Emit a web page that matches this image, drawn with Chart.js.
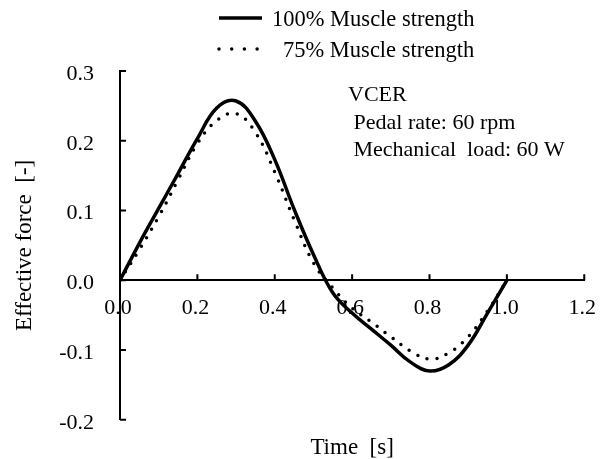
<!DOCTYPE html>
<html>
<head>
<meta charset="utf-8">
<script src="https://cdn.jsdelivr.net/npm/chart.js@4.4.1/dist/chart.umd.min.js"></script>
<style>
  html, body { margin: 0; padding: 0; background: #fff; }
</style>
</head>
<body>
<canvas id="chart" width="613" height="459"></canvas>
<script>
// values
const timeS    = [0, 0.05, 0.1, 0.15, 0.2, 0.25, 0.3, 0.35, 0.4, 0.45, 0.5, 0.55, 0.6, 0.65, 0.7, 0.75, 0.8, 0.85, 0.9, 0.95, 1.0];
const force100 = [0, 0.053, 0.103, 0.153, 0.203, 0.247, 0.257, 0.228, 0.173, 0.102, 0.037, -0.018, -0.047, -0.070, -0.093, -0.117, -0.130, -0.121, -0.093, -0.047, 0];
const force75  = [0, 0.044, 0.091, 0.144, 0.196, 0.229, 0.239, 0.212, 0.155, 0.087, 0.025, -0.011, -0.040, -0.060, -0.081, -0.101, -0.113, -0.104, -0.081, -0.044, 0];

const seriesNames = ['100% Muscle strength', '75% Muscle strength'];
const noteLines = ['VCER', ' Pedal rate: 60 rpm', ' Mechanical  load: 60 W'];
const xTitle = 'Time  [s]';
const yTitle = 'Effective force  [-]';

const FONT = '"Liberation Serif", "Times New Roman", serif';

function points(ys) {
	return timeS.map((t, i) => ({ x: t, y: ys[i] }));
}

// inward tick marks, legend, note and x title
const extras = {
	id: 'extras',
	afterDraw(chart) {
		const ctx = chart.ctx;
		const xs = chart.scales.x, ys = chart.scales.y;
		const y0 = ys.getPixelForValue(0);
		ctx.save();
		ctx.strokeStyle = '#000';
		ctx.lineWidth = 2;
		ctx.beginPath();
		xs.ticks.forEach(t => {
			if (t.value === 0) return;
			const px = xs.getPixelForValue(t.value);
			ctx.moveTo(px, y0); ctx.lineTo(px, y0 - 6);
		});
		ys.ticks.forEach(t => {
			const py = ys.getPixelForValue(t.value);
			ctx.moveTo(xs.left, py); ctx.lineTo(xs.left + 6, py);
		});
		ctx.stroke();

		// legend
		ctx.fillStyle = '#000';
		ctx.font = '22.5px ' + FONT;
		ctx.textBaseline = 'alphabetic';
		const rows = [{ y: 18, tx: 272 }, { y: 49, tx: 283 }];
		chart.data.datasets.forEach((ds, i) => {
			const r = rows[i];
			ctx.beginPath();
			ctx.lineWidth = ds.borderWidth;
			ctx.lineCap = ds.borderCapStyle || 'butt';
			ctx.setLineDash(i === 0 ? [] : [0, 12.7]);
			ctx.moveTo(219, r.y); ctx.lineTo(i === 0 ? 262 : 259, r.y);
			ctx.stroke();
			ctx.setLineDash([]);
			ctx.fillText(ds.label, r.tx, r.y + 8);
		});

		// note
		ctx.font = '22px ' + FONT;
		noteLines.forEach((s, i) => {
			ctx.fillText(s, 348, 101 + i * 27.5);
		});

		// x title
		ctx.font = '23px ' + FONT;
		ctx.textAlign = 'center';
		ctx.fillText(xTitle, (xs.left + xs.right) / 2, 454);
		ctx.restore();
	}
};

new Chart(document.getElementById('chart'), {
	type: 'line',
	data: {
		datasets: [
			{
				label: seriesNames[0],
				data: points(force100),
				borderColor: '#000',
				borderWidth: 3.5,
				pointRadius: 0,
				tension: 0.4,
				fill: false
			},
			{
				label: seriesNames[1],
				data: points(force75),
				borderColor: '#000',
				borderWidth: 3.5,
				borderDash: [0, 10],
				borderCapStyle: 'round',
				pointRadius: 0,
				tension: 0.4,
				fill: false
			}
		]
	},
	options: {
		responsive: false,
		animation: false,
		layout: { padding: { top: 71, right: 22, bottom: 31, left: 0 } },
		plugins: { legend: { display: false }, tooltip: { enabled: false } },
		scales: {
			x: {
				type: 'linear',
				position: { y: 0 },
				min: 0, max: 1.2,
				afterFit: s => { s.height = 0; },
				grid: { display: false, drawTicks: false },
				border: { display: true, color: '#000', width: 2 },
				ticks: {
					stepSize: 0.2,
					padding: 15,
					labelOffset: -2,
					color: '#000',
					font: { family: FONT, size: 22 },
					callback: v => v.toFixed(1)
				}
			},
			y: {
				type: 'linear',
				min: -0.2, max: 0.3,
				afterFit: s => { s.width = 120; },
				grid: { display: false, drawTicks: false },
				border: { display: true, color: '#000', width: 2 },
				title: {
					display: true,
					text: yTitle,
					color: '#000',
					font: { family: FONT, size: 23 },
					padding: { top: 11, bottom: 0 }
				},
				ticks: {
					stepSize: 0.1,
					padding: 26,
					labelOffset: 3,
					color: '#000',
					font: { family: FONT, size: 22 },
					callback: v => v.toFixed(1)
				}
			}
		}
	},
	plugins: [extras]
});
</script>
</body>
</html>
